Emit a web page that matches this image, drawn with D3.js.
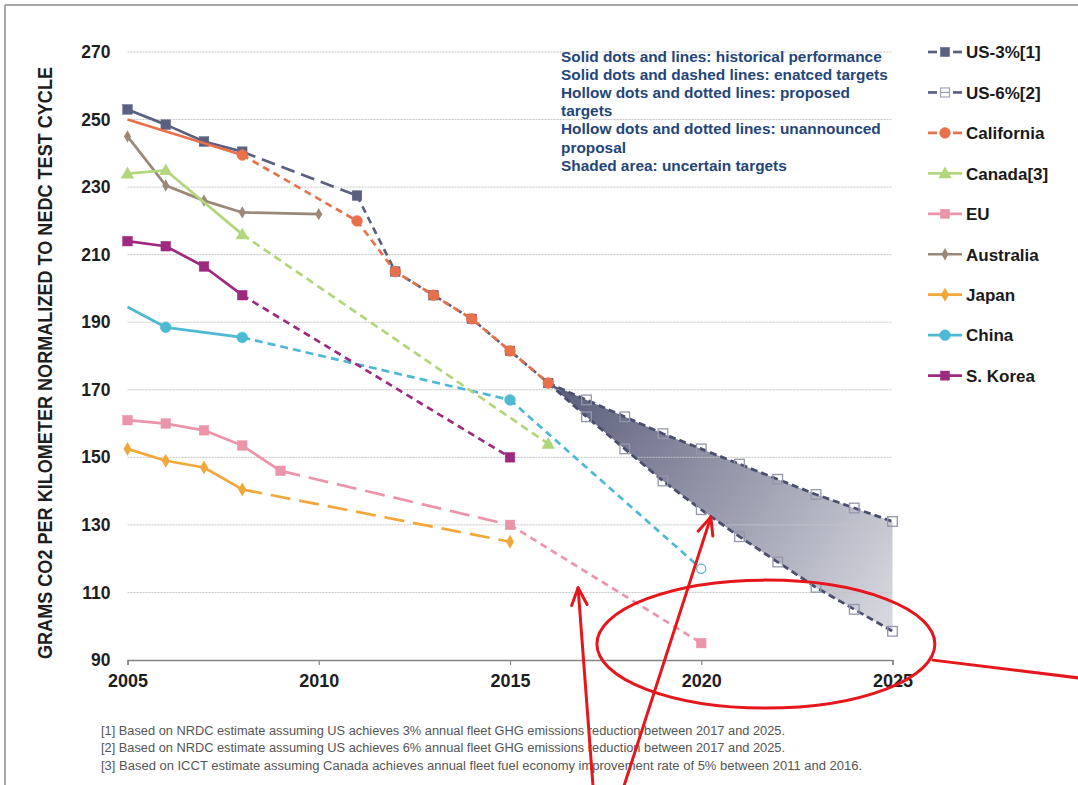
<!DOCTYPE html>
<html>
<head>
<meta charset="utf-8">
<script src="https://cdn.jsdelivr.net/npm/d3@7"></script>
<style>
  body { margin: 0; background: #fff; }
  svg { display: block; font-family: "Liberation Sans", Arial, sans-serif; }
</style>
</head>
<body>
<svg id="chart" width="1078" height="785"></svg>
<script>
// Passenger-car fleet CO2, grams per km normalized to the NEDC test cycle
const usYears = [2005, 2006, 2007, 2008, 2011, 2012, 2013, 2014, 2015, 2016];
const us3Values = [253, 248.5, 243.5, 240.5, 227.5, 205, 198, 191, 181.5, 172];
const bandYears = [2016, 2017, 2018, 2019, 2020, 2021, 2022, 2023, 2024, 2025];
const us3BandValues = [172, 167, 162, 157, 152.5, 148, 143.5, 139, 135, 131];
const us6BandValues = [172, 162, 152.5, 143, 134.5, 126.5, 119, 111.5, 105, 98.5];
const californiaYears = [2005, 2008, 2011, 2012, 2013, 2014, 2015, 2016];
const californiaValues = [250, 239.5, 220, 205, 198, 191, 181.5, 172];
const canadaYears = [2005, 2006, 2008, 2016];
const canadaValues = [234, 235, 216, 154];
const euYears = [2005, 2006, 2007, 2008, 2009, 2015, 2020];
const euValues = [161, 160, 158, 153.5, 146, 130, 95];
const australiaYears = [2005, 2006, 2007, 2008, 2010];
const australiaValues = [245, 230.5, 226, 222.5, 222];
const japanYears = [2005, 2006, 2007, 2008, 2015];
const japanValues = [152.5, 149, 147, 140.5, 125];
const chinaYears = [2005, 2006, 2008, 2015, 2020];
const chinaValues = [194.5, 188.5, 185.5, 167, 117];
const koreaYears = [2005, 2006, 2007, 2008, 2015];
const koreaValues = [214, 212.5, 206.5, 198, 150];

const yTicks = [90, 110, 130, 150, 170, 190, 210, 230, 250, 270];
const xTicks = [2005, 2010, 2015, 2020, 2025];
const legendLabels = ["US-3%[1]", "US-6%[2]", "California", "Canada[3]", "EU", "Australia", "Japan", "China", "S. Korea"];
const notes = [
  "Solid dots and lines: historical performance",
  "Solid dots and dashed lines: enatced targets",
  "Hollow dots and dotted lines: proposed",
  "targets",
  "Hollow dots and dotted lines: unannounced",
  "proposal",
  "Shaded area: uncertain targets"
];
const footnotes = [
  "[1] Based on NRDC estimate assuming US achieves 3% annual fleet GHG emissions reduction between 2017 and 2025.",
  "[2] Based on NRDC estimate assuming US achieves 6% annual fleet GHG emissions reduction between 2017 and 2025.",
  "[3] Based on ICCT estimate assuming Canada achieves annual fleet fuel economy improvement rate of 5% between 2011 and 2016."
];
const yTitle = "GRAMS CO2 PER KILOMETER NORMALIZED TO NEDC TEST CYCLE";

// ---- styles ----
const C = {
  us: "#5B6080", usBand: "#4B4F6E", cal: "#E8704A", can: "#B3D57B", eu: "#EB95AA",
  aus: "#9A8878", jpn: "#F2A73A", chn: "#4DB9D2", kor: "#9E2A80"
};
const LONG = "20,9", MID = "14,7", SHORT = "7,5";

const series = [
  { name: "Australia", years: australiaYears, values: australiaValues, color: C.aus, marker: "diamond", dashes: [] },
  { name: "Japan", years: japanYears, values: japanValues, color: C.jpn, marker: "diamondL", dashes: [[2008, LONG]] },
  { name: "EU", years: euYears, values: euValues, color: C.eu, marker: "square", dashes: [[2009, LONG], [2015, SHORT]] },
  { name: "China", years: chinaYears, values: chinaValues, color: C.chn, marker: "circle", dashes: [[2008, "8,5"], [2015, SHORT]], skip: [2005], hollow: [2020] },
  { name: "Canada[3]", years: canadaYears, values: canadaValues, color: C.can, marker: "triangle", dashes: [[2008, "8,5"]] },
  { name: "S. Korea", years: koreaYears, values: koreaValues, color: C.kor, marker: "square", dashes: [[2008, SHORT]] },
  { name: "US-3%[1]", years: usYears, values: us3Values, color: C.us, marker: "square", dashes: [[2008, MID], [2011, SHORT]] },
  { name: "California", years: californiaYears, values: californiaValues, color: C.cal, marker: "circle", dashes: [[2008, SHORT]], skip: [2005] }
];

const svg = d3.select("#chart");
const x = d3.scaleLinear().domain([2005, 2025]).range([127.5, 892.5]);
const y = d3.scaleLinear().domain([90, 270]).range([660, 52]);

// page frame
svg.append("line").attr("x1", 5).attr("y1", 5).attr("x2", 1078).attr("y2", 5)
  .attr("stroke", "#A8A8A8").attr("stroke-width", 2);
svg.append("line").attr("x1", 5).attr("y1", 5).attr("x2", 5).attr("y2", 785)
  .attr("stroke", "#A8A8A8").attr("stroke-width", 2);

// uncertain-target band (US 3% vs 6%)
const defs = svg.append("defs");
const grad = defs.append("linearGradient").attr("id", "bandGrad")
  .attr("gradientUnits", "userSpaceOnUse")
  .attr("x1", x(2016)).attr("y1", y(172)).attr("x2", x(2025)).attr("y2", y(105));
grad.append("stop").attr("offset", "0%").attr("stop-color", "#585B79");
grad.append("stop").attr("offset", "100%").attr("stop-color", "#D6D7DE");

const bandData = bandYears.map((yr, i) => ({ yr, hi: us3BandValues[i], lo: us6BandValues[i] }));
svg.append("path").datum(bandData)
  .attr("d", d3.area().x(d => x(d.yr)).y0(d => y(d.lo)).y1(d => y(d.hi)))
  .attr("fill", "url(#bandGrad)");

// gridlines
svg.append("g").selectAll("line").data(yTicks.filter(t => t > 90)).join("line")
  .attr("x1", x(2005)).attr("x2", x(2025))
  .attr("y1", d => y(d)).attr("y2", d => y(d))
  .attr("stroke", "#C4C4C4").attr("stroke-width", 1).attr("stroke-dasharray", "2,1");

// x axis
const xAxis = svg.append("g").attr("transform", `translate(0,${y(90)})`)
  .call(d3.axisBottom(x).tickValues(xTicks).tickFormat(d3.format("d")).tickSize(5).tickPadding(9));
xAxis.select(".domain").attr("stroke", "#858585").attr("stroke-width", 1.5);
xAxis.selectAll(".tick line").attr("stroke", "#858585").attr("stroke-width", 1.2);
xAxis.selectAll("text").attr("font-size", 18).attr("font-weight", "bold").attr("fill", "#1E1E1E")
  .attr("font-family", "Liberation Sans, Arial, sans-serif");

// y axis labels
const yAxis = svg.append("g").attr("transform", `translate(${x(2005)},0)`)
  .call(d3.axisLeft(y).tickValues(yTicks).tickSize(0).tickPadding(17));
yAxis.select(".domain").remove();
yAxis.selectAll("text").attr("font-size", 17.5).attr("font-weight", "bold").attr("fill", "#1E1E1E")
  .attr("font-family", "Liberation Sans, Arial, sans-serif");

// y axis title
svg.append("text")
  .attr("transform", `translate(52,${(y(270) + y(90)) / 2 + 7}) rotate(-90) scale(1,1.12)`)
  .attr("text-anchor", "middle").attr("font-size", 18).attr("font-weight", "bold")
  .attr("fill", "#1E1E1E").attr("textLength", 592).attr("lengthAdjust", "spacingAndGlyphs")
  .text(yTitle);

// marker drawing helper
function drawMarker(g, type, cx, cy, color, hollow, size) {
  const s = size || 1;
  if (type === "square") {
    const h = 4.8 * s;
    g.append("rect").attr("x", cx - h).attr("y", cy - h).attr("width", 2 * h).attr("height", 2 * h)
      .attr("fill", hollow ? "none" : color).attr("stroke", hollow ? "#9497AB" : color)
      .attr("stroke-width", hollow ? 1.3 : 0.5);
  } else if (type === "circle") {
    g.append("circle").attr("cx", cx).attr("cy", cy).attr("r", (hollow ? 4.6 : 5.4) * s)
      .attr("fill", hollow ? "#fff" : color).attr("stroke", color).attr("stroke-width", hollow ? 1.2 : 0.5);
  } else if (type === "triangle") {
    g.append("path").attr("d", d3.symbol(d3.symbolTriangle, 78 * s * s)())
      .attr("transform", `translate(${cx},${cy + 1})`).attr("fill", color);
  } else if (type === "diamond" || type === "diamondL") {
    const a = type === "diamond" ? 44 : 56;
    g.append("path").attr("d", d3.symbol(d3.symbolDiamond, a * s * s)())
      .attr("transform", `translate(${cx},${cy})`).attr("fill", color);
  }
}

// band edges (US 3% upper, US 6% lower)
const lineGen = d3.line().x(d => x(d[0])).y(d => y(d[1]));
[us3BandValues, us6BandValues].forEach(vals => {
  const pts = bandYears.map((yr, i) => [yr, vals[i]]);
  svg.append("path").datum(pts).attr("d", lineGen)
    .attr("fill", "none").attr("stroke", C.usBand).attr("stroke-width", 2.8)
    .attr("stroke-dasharray", "7,4");
  const g = svg.append("g");
  pts.slice(1).forEach(p => drawMarker(g, "square", x(p[0]), y(p[1]), C.usBand, true));
});

// country series: group consecutive segments that share a dash pattern
function dashFor(s, startYear) {
  let dash = null;
  s.dashes.forEach(([from, d]) => { if (startYear >= from) dash = d; });
  return dash;
}
series.forEach(s => {
  const pts = s.years.map((yr, i) => [yr, s.values[i]]);
  const runs = [];
  for (let i = 0; i < pts.length - 1; i++) {
    const dash = dashFor(s, pts[i][0]);
    const last = runs[runs.length - 1];
    if (last && last.dash === dash) last.pts.push(pts[i + 1]);
    else runs.push({ dash, pts: [pts[i], pts[i + 1]] });
  }
  const g = svg.append("g");
  runs.forEach(r => {
    g.append("path").datum(r.pts).attr("d", lineGen)
      .attr("fill", "none").attr("stroke", s.color).attr("stroke-width", 2.7)
      .attr("stroke-linejoin", "round")
      .attr("stroke-dasharray", r.dash);
  });
  pts.forEach(p => {
    if (s.skip && s.skip.includes(p[0])) return;
    const hollow = s.hollow && s.hollow.includes(p[0]);
    drawMarker(g, s.marker, x(p[0]), y(p[1]), s.color, hollow);
  });
});

// notes block
const noteG = svg.append("g").attr("font-size", 15.4).attr("font-weight", "bold").attr("fill", "#24457A");
notes.forEach((t, i) => {
  noteG.append("text").attr("x", 561).attr("y", 62 + i * 18.1).text(t);
});

// legend
const legendStyle = [
  { color: C.us, marker: "square", dashed: true },
  { color: C.us, marker: "square", dashed: true, hollow: true },
  { color: C.cal, marker: "circle", dashed: true },
  { color: C.can, marker: "triangle" },
  { color: C.eu, marker: "square" },
  { color: C.aus, marker: "diamond" },
  { color: C.jpn, marker: "diamondL" },
  { color: C.chn, marker: "circle" },
  { color: C.kor, marker: "square" }
];
const legend = svg.append("g");
legendLabels.forEach((lab, i) => {
  const st = legendStyle[i];
  const cy = 52 + i * 40.45;
  if (st.dashed) {
    legend.append("line").attr("x1", 928).attr("x2", 937).attr("y1", cy).attr("y2", cy)
      .attr("stroke", st.color).attr("stroke-width", 2.7);
    legend.append("line").attr("x1", 953).attr("x2", 962).attr("y1", cy).attr("y2", cy)
      .attr("stroke", st.color).attr("stroke-width", 2.7);
  } else {
    legend.append("line").attr("x1", 928).attr("x2", 962).attr("y1", cy).attr("y2", cy)
      .attr("stroke", st.color).attr("stroke-width", 2.7);
  }
  if (st.hollow) {
    legend.append("rect").attr("x", 940.5).attr("y", cy - 4.5).attr("width", 9).attr("height", 9)
      .attr("fill", "#fff").attr("stroke", "#A3A6B8").attr("stroke-width", 1.2);
    legend.append("line").attr("x1", 941).attr("x2", 949).attr("y1", cy).attr("y2", cy)
      .attr("stroke", "#9A9DB0").attr("stroke-width", 1.2);
  } else {
    drawMarker(legend, st.marker, 945, cy, st.color, false, st.marker === "square" ? 0.95 : 1);
  }
  legend.append("text").attr("x", 966).attr("y", cy + 6.3)
    .attr("font-size", 17).attr("font-weight", "bold").attr("fill", "#1A1A1A").text(lab);
});

// footnotes
const fnWidths = [684, 684, 761];
footnotes.forEach((t, i) => {
  svg.append("text").attr("x", 101).attr("y", 735 + i * 17.4)
    .attr("font-size", 12.5).attr("fill", "#555")
    .attr("textLength", fnWidths[i]).attr("lengthAdjust", "spacingAndGlyphs")
    .text(t);
});

// red call-outs: ellipse around the 2020-2025 targets and two pointer arrows
const red = svg.append("g").attr("fill", "none").attr("stroke", "#E5161C")
  .attr("stroke-width", 3).attr("stroke-linecap", "round").attr("stroke-linejoin", "round");
const ecx = x(2021.69), ecy = y(94.7);
red.append("ellipse").attr("cx", ecx).attr("cy", ecy).attr("rx", 169).attr("ry", 64);
red.append("line").attr("x1", ecx + 167).attr("y1", ecy + 16).attr("x2", 1080).attr("y2", ecy + 34);

function arrow(tipYear, tipVal, baseYear) {
  const tx = x(tipYear), ty = y(tipVal), bx = x(baseYear), by = 786;
  const ang = Math.atan2(by - ty, bx - tx);
  const len = 19, spread = 0.42;
  red.append("line").attr("x1", bx).attr("y1", by).attr("x2", tx).attr("y2", ty);
  red.append("path").attr("d",
    `M${tx + len * Math.cos(ang + spread)},${ty + len * Math.sin(ang + spread)}` +
    `L${tx},${ty}L${tx + len * Math.cos(ang - spread)},${ty + len * Math.sin(ang - spread)}`);
}
arrow(2016.78, 111.4, 2017.17);
arrow(2020.25, 132.3, 2017.98);
</script>
</body>
</html>
